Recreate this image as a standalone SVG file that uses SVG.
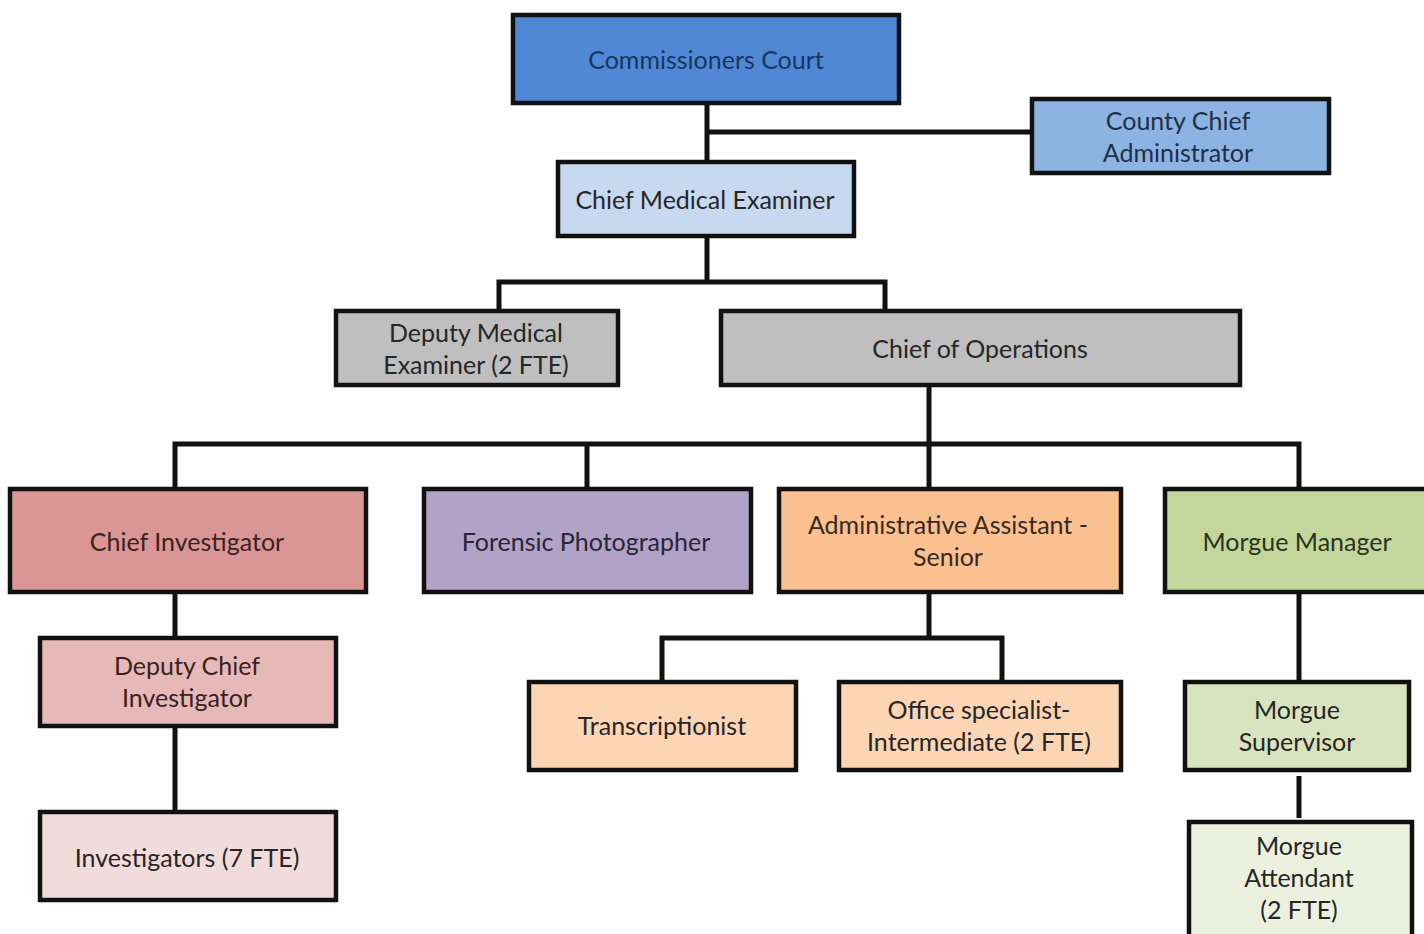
<svg xmlns="http://www.w3.org/2000/svg" width="1424" height="934" viewBox="0 0 1424 934">
<style>
.box{stroke:#111;stroke-width:4.5}
.t{font-family:Lato,"Open Sans","Liberation Sans",sans-serif;font-size:25px;text-anchor:middle;dominant-baseline:central;fill:#262626}
.c{fill:none;stroke:#111;stroke-width:5}
</style>
<rect width="1424" height="934" fill="#fff"/>
<g id="connectors">
<path class="c" d="M707 103V162M707 132H1032"/>
<path class="c" d="M707 236V282M499 311V282H885V311"/>
<path class="c" d="M929 385V444M175 489V444H1299V489M587 444V489M929 444V489"/>
<path class="c" d="M175 592V638M175 726V812"/>
<path class="c" d="M929 592V638M662 682V638H1002V682"/>
<path class="c" d="M1299 592V682M1299 776V818"/>
</g>
<g id="commissioners-court"><rect class="box" x="513" y="15" width="386" height="88" fill="#5088d6"/><text class="t" x="706" y="59" style="fill:#17365d">Commissioners Court</text></g>
<g id="county-chief-administrator"><rect class="box" x="1032" y="99" width="297" height="74" fill="#8db3e2"/><text class="t" x="1178" y="120" style="fill:#1f2f48">County Chief</text><text class="t" x="1178" y="152" style="fill:#1f2f48">Administrator</text></g>
<g id="chief-medical-examiner"><rect class="box" x="558" y="162" width="296" height="74" fill="#c6d9f1"/><text class="t" x="705" y="199">Chief Medical Examiner</text></g>
<g id="deputy-medical-examiner"><rect class="box" x="336" y="311" width="282" height="74" fill="#bfbfbf"/><text class="t" x="476" y="332">Deputy Medical</text><text class="t" x="476" y="364">Examiner (2 FTE)</text></g>
<g id="chief-of-operations"><rect class="box" x="721" y="311" width="519" height="74" fill="#bfbfbf"/><text class="t" x="980" y="348">Chief of Operations</text></g>
<g id="chief-investigator"><rect class="box" x="10" y="489" width="356" height="103" fill="#d99694"/><text class="t" x="187" y="541" style="fill:#3a2222">Chief Investigator</text></g>
<g id="forensic-photographer"><rect class="box" x="424" y="489" width="327" height="103" fill="#b3a2c7"/><text class="t" x="586" y="541" style="fill:#2a2433">Forensic Photographer</text></g>
<g id="administrative-assistant"><rect class="box" x="779" y="489" width="342" height="103" fill="#fac090"/><text class="t" x="948" y="524" style="fill:#3a2a1e">Administrative Assistant -</text><text class="t" x="948" y="556" style="fill:#3a2a1e">Senior</text></g>
<g id="morgue-manager"><rect class="box" x="1165" y="489" width="264" height="103" fill="#c3d69b"/><text class="t" x="1297" y="541" style="fill:#2a3320">Morgue Manager</text></g>
<g id="deputy-chief-investigator"><rect class="box" x="40" y="638" width="296" height="88" fill="#e6b9b8"/><text class="t" x="187" y="665" style="fill:#3a2222">Deputy Chief</text><text class="t" x="187" y="697" style="fill:#3a2222">Investigator</text></g>
<g id="investigators"><rect class="box" x="40" y="812" width="296" height="88" fill="#f2dcdb"/><text class="t" x="187" y="857">Investigators (7 FTE)</text></g>
<g id="transcriptionist"><rect class="box" x="529" y="682" width="267" height="88" fill="#fcd5b5"/><text class="t" x="662" y="725">Transcriptionist</text></g>
<g id="office-specialist"><rect class="box" x="839" y="682" width="282" height="88" fill="#fcd5b5"/><text class="t" x="979" y="709">Office specialist-</text><text class="t" x="979" y="741">Intermediate (2 FTE)</text></g>
<g id="morgue-supervisor"><rect class="box" x="1185" y="682" width="224" height="88" fill="#d7e4bd"/><text class="t" x="1297" y="709">Morgue</text><text class="t" x="1297" y="741">Supervisor</text></g>
<g id="morgue-attendant"><rect class="box" x="1189" y="822" width="223" height="120" fill="#ebf1de"/><text class="t" x="1299" y="845">Morgue</text><text class="t" x="1299" y="877">Attendant</text><text class="t" x="1299" y="909">(2 FTE)</text></g>
</svg>
